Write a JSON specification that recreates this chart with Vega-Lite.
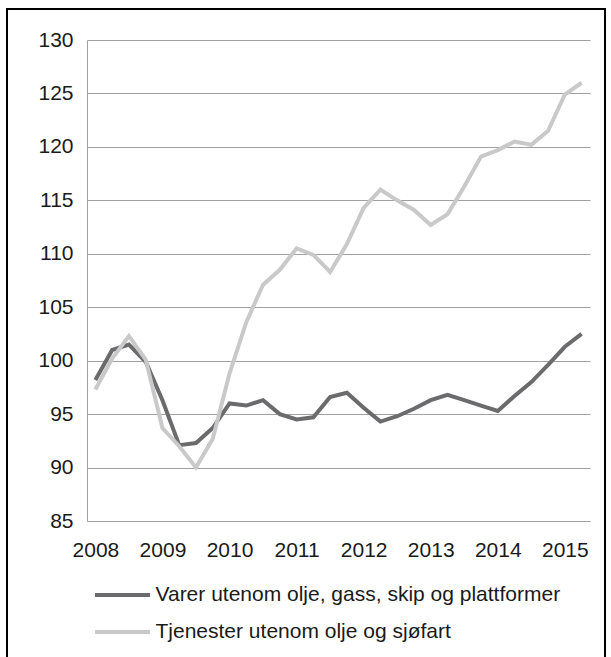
{
  "$schema": "https://vega.github.io/schema/vega-lite/v6.json",
  "width": 598,
  "height": 651,
  "autosize": {"type": "none"},
  "padding": {"left": 7, "top": 9, "right": 6, "bottom": -3},
  "background": "white",
  "config": {
    "font": "Liberation Sans",
    "view": {"stroke": "#000000", "strokeWidth": 2},
    "axis": {"labelFont": "Liberation Sans", "labelFontSize": 21, "labelColor": "#1a1a1a"}
  },
  "datasets": {
    "indeks": [
      {"kvartal": "2008K1", "serie": "Varer utenom olje, gass, skip og plattformer", "verdi": 98.2},
      {"kvartal": "2008K2", "serie": "Varer utenom olje, gass, skip og plattformer", "verdi": 101.0},
      {"kvartal": "2008K3", "serie": "Varer utenom olje, gass, skip og plattformer", "verdi": 101.5},
      {"kvartal": "2008K4", "serie": "Varer utenom olje, gass, skip og plattformer", "verdi": 99.9},
      {"kvartal": "2009K1", "serie": "Varer utenom olje, gass, skip og plattformer", "verdi": 96.3},
      {"kvartal": "2009K2", "serie": "Varer utenom olje, gass, skip og plattformer", "verdi": 92.1},
      {"kvartal": "2009K3", "serie": "Varer utenom olje, gass, skip og plattformer", "verdi": 92.3},
      {"kvartal": "2009K4", "serie": "Varer utenom olje, gass, skip og plattformer", "verdi": 93.7},
      {"kvartal": "2010K1", "serie": "Varer utenom olje, gass, skip og plattformer", "verdi": 96.0},
      {"kvartal": "2010K2", "serie": "Varer utenom olje, gass, skip og plattformer", "verdi": 95.8},
      {"kvartal": "2010K3", "serie": "Varer utenom olje, gass, skip og plattformer", "verdi": 96.3},
      {"kvartal": "2010K4", "serie": "Varer utenom olje, gass, skip og plattformer", "verdi": 95.0},
      {"kvartal": "2011K1", "serie": "Varer utenom olje, gass, skip og plattformer", "verdi": 94.5},
      {"kvartal": "2011K2", "serie": "Varer utenom olje, gass, skip og plattformer", "verdi": 94.7},
      {"kvartal": "2011K3", "serie": "Varer utenom olje, gass, skip og plattformer", "verdi": 96.6},
      {"kvartal": "2011K4", "serie": "Varer utenom olje, gass, skip og plattformer", "verdi": 97.0},
      {"kvartal": "2012K1", "serie": "Varer utenom olje, gass, skip og plattformer", "verdi": 95.6},
      {"kvartal": "2012K2", "serie": "Varer utenom olje, gass, skip og plattformer", "verdi": 94.3},
      {"kvartal": "2012K3", "serie": "Varer utenom olje, gass, skip og plattformer", "verdi": 94.8},
      {"kvartal": "2012K4", "serie": "Varer utenom olje, gass, skip og plattformer", "verdi": 95.5},
      {"kvartal": "2013K1", "serie": "Varer utenom olje, gass, skip og plattformer", "verdi": 96.3},
      {"kvartal": "2013K2", "serie": "Varer utenom olje, gass, skip og plattformer", "verdi": 96.8},
      {"kvartal": "2013K3", "serie": "Varer utenom olje, gass, skip og plattformer", "verdi": 96.3},
      {"kvartal": "2013K4", "serie": "Varer utenom olje, gass, skip og plattformer", "verdi": 95.8},
      {"kvartal": "2014K1", "serie": "Varer utenom olje, gass, skip og plattformer", "verdi": 95.3},
      {"kvartal": "2014K2", "serie": "Varer utenom olje, gass, skip og plattformer", "verdi": 96.7},
      {"kvartal": "2014K3", "serie": "Varer utenom olje, gass, skip og plattformer", "verdi": 98.0},
      {"kvartal": "2014K4", "serie": "Varer utenom olje, gass, skip og plattformer", "verdi": 99.6},
      {"kvartal": "2015K1", "serie": "Varer utenom olje, gass, skip og plattformer", "verdi": 101.3},
      {"kvartal": "2015K2", "serie": "Varer utenom olje, gass, skip og plattformer", "verdi": 102.5},
      {"kvartal": "2008K1", "serie": "Tjenester utenom olje og sjøfart", "verdi": 97.3},
      {"kvartal": "2008K2", "serie": "Tjenester utenom olje og sjøfart", "verdi": 100.2},
      {"kvartal": "2008K3", "serie": "Tjenester utenom olje og sjøfart", "verdi": 102.3},
      {"kvartal": "2008K4", "serie": "Tjenester utenom olje og sjøfart", "verdi": 100.1},
      {"kvartal": "2009K1", "serie": "Tjenester utenom olje og sjøfart", "verdi": 93.7},
      {"kvartal": "2009K2", "serie": "Tjenester utenom olje og sjøfart", "verdi": 92.0},
      {"kvartal": "2009K3", "serie": "Tjenester utenom olje og sjøfart", "verdi": 90.0},
      {"kvartal": "2009K4", "serie": "Tjenester utenom olje og sjøfart", "verdi": 92.7},
      {"kvartal": "2010K1", "serie": "Tjenester utenom olje og sjøfart", "verdi": 98.8},
      {"kvartal": "2010K2", "serie": "Tjenester utenom olje og sjøfart", "verdi": 103.6},
      {"kvartal": "2010K3", "serie": "Tjenester utenom olje og sjøfart", "verdi": 107.1},
      {"kvartal": "2010K4", "serie": "Tjenester utenom olje og sjøfart", "verdi": 108.5},
      {"kvartal": "2011K1", "serie": "Tjenester utenom olje og sjøfart", "verdi": 110.5},
      {"kvartal": "2011K2", "serie": "Tjenester utenom olje og sjøfart", "verdi": 109.9},
      {"kvartal": "2011K3", "serie": "Tjenester utenom olje og sjøfart", "verdi": 108.3},
      {"kvartal": "2011K4", "serie": "Tjenester utenom olje og sjøfart", "verdi": 110.9},
      {"kvartal": "2012K1", "serie": "Tjenester utenom olje og sjøfart", "verdi": 114.3},
      {"kvartal": "2012K2", "serie": "Tjenester utenom olje og sjøfart", "verdi": 116.0},
      {"kvartal": "2012K3", "serie": "Tjenester utenom olje og sjøfart", "verdi": 115.0},
      {"kvartal": "2012K4", "serie": "Tjenester utenom olje og sjøfart", "verdi": 114.1},
      {"kvartal": "2013K1", "serie": "Tjenester utenom olje og sjøfart", "verdi": 112.7},
      {"kvartal": "2013K2", "serie": "Tjenester utenom olje og sjøfart", "verdi": 113.7},
      {"kvartal": "2013K3", "serie": "Tjenester utenom olje og sjøfart", "verdi": 116.3},
      {"kvartal": "2013K4", "serie": "Tjenester utenom olje og sjøfart", "verdi": 119.1},
      {"kvartal": "2014K1", "serie": "Tjenester utenom olje og sjøfart", "verdi": 119.7},
      {"kvartal": "2014K2", "serie": "Tjenester utenom olje og sjøfart", "verdi": 120.5},
      {"kvartal": "2014K3", "serie": "Tjenester utenom olje og sjøfart", "verdi": 120.2},
      {"kvartal": "2014K4", "serie": "Tjenester utenom olje og sjøfart", "verdi": 121.5},
      {"kvartal": "2015K1", "serie": "Tjenester utenom olje og sjøfart", "verdi": 124.9},
      {"kvartal": "2015K2", "serie": "Tjenester utenom olje og sjøfart", "verdi": 126.0}
    ]
  },
  "data": {"name": "indeks"},
  "mark": {"type": "line", "strokeWidth": 4, "strokeJoin": "miter"},
  "encoding": {
    "x": {
      "field": "kvartal",
      "type": "ordinal",
      "sort": null,
      "scale": {"type": "point", "padding": 0.5, "range": [80, 583]},
      "axis": {
        "title": null,
        "values": ["2008K1", "2009K1", "2010K1", "2011K1", "2012K1", "2013K1", "2014K1", "2015K1"],
        "labelExpr": "slice(datum.value, 0, 4)",
        "labelAngle": 0,
        "labelOverlap": false,
        "ticks": false,
        "labelPadding": 18,
        "offset": -139,
        "domainColor": "#a0a0a0",
        "domainWidth": 1,
        "grid": false
      }
    },
    "y": {
      "field": "verdi",
      "type": "quantitative",
      "scale": {"domain": [85, 130], "nice": false, "zero": false, "range": [512, 31]},
      "axis": {
        "title": null,
        "values": [85, 90, 95, 100, 105, 110, 115, 120, 125, 130],
        "ticks": false,
        "labelPadding": 14,
        "offset": -80,
        "domainColor": "#a0a0a0",
        "domainWidth": 1,
        "grid": true,
        "gridColor": "#a0a0a0",
        "gridWidth": 1
      }
    },
    "color": {
      "field": "serie",
      "type": "nominal",
      "sort": null,
      "scale": {
        "domain": ["Varer utenom olje, gass, skip og plattformer", "Tjenester utenom olje og sjøfart"],
        "range": ["#6b6b6d", "#c9c9c9"]
      },
      "legend": {
        "title": null,
        "orient": "none",
        "legendX": 94.5,
        "legendY": 565,
        "direction": "vertical",
        "symbolType": "M-1.447,0H1.447",
        "symbolSize": 1444,
        "symbolStrokeWidth": 4,
        "labelFont": "Liberation Sans",
        "labelFontSize": 21,
        "labelColor": "#1a1a1a",
        "labelOffset": 12,
        "labelLimit": 0,
        "rowPadding": 6,
        "padding": 0
      }
    }
  }
}
